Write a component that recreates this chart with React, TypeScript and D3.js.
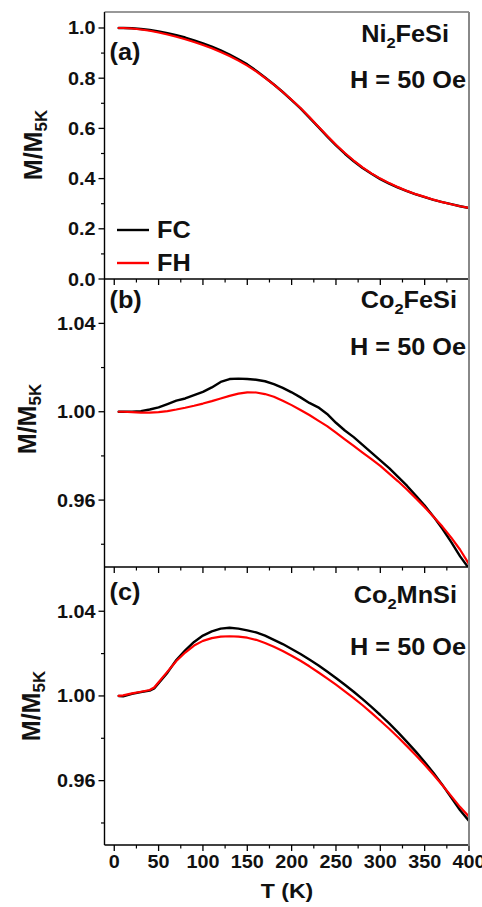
import React from "react";
import * as d3 from "d3";

// ---------- data ----------
const tempsA = [5,10,20,30,40,50,60,70,80,90,100,110,120,130,140,150,160,170,180,190,200,210,220,230,240,250,260,270,280,290,300,310,320,330,340,350,360,370,380,390,400];
const ni2fesiFC = [1.000,1.000,0.999,0.996,0.992,0.986,0.979,0.971,0.962,0.951,0.939,0.926,0.911,0.894,0.875,0.855,0.830,0.803,0.775,0.745,0.713,0.680,0.643,0.606,0.568,0.532,0.499,0.469,0.442,0.419,0.398,0.380,0.364,0.350,0.337,0.326,0.315,0.306,0.298,0.290,0.283];
const ni2fesiFH = [1.000,1.000,0.998,0.994,0.989,0.982,0.974,0.965,0.955,0.944,0.932,0.919,0.904,0.888,0.870,0.850,0.827,0.801,0.774,0.745,0.714,0.681,0.645,0.608,0.571,0.535,0.502,0.472,0.445,0.421,0.400,0.382,0.366,0.351,0.338,0.327,0.316,0.306,0.298,0.290,0.283];

const tempsB = [5,10,20,30,40,50,60,70,80,90,100,110,120,130,140,150,160,170,180,190,200,210,220,230,240,250,260,270,280,290,300,310,320,330,340,350,360,370,380,390,400];
const co2fesiFC = [1.0000,1.0000,1.0000,1.0003,1.0010,1.0020,1.0035,1.0050,1.0060,1.0075,1.0090,1.0110,1.0135,1.0148,1.0150,1.0148,1.0145,1.0138,1.0125,1.0108,1.0088,1.0065,1.0040,1.0020,0.9990,0.9950,0.9915,0.9885,0.9850,0.9815,0.9780,0.9745,0.9705,0.9665,0.9620,0.9575,0.9525,0.9470,0.9410,0.9345,0.9290];
const co2fesiFH = [1.0000,1.0000,0.9998,0.9996,0.9996,0.9998,1.0003,1.0010,1.0018,1.0027,1.0037,1.0048,1.0060,1.0072,1.0082,1.0088,1.0087,1.0080,1.0068,1.0050,1.0030,1.0008,0.9985,0.9960,0.9935,0.9905,0.9875,0.9845,0.9815,0.9785,0.9755,0.9720,0.9685,0.9648,0.9608,0.9568,0.9525,0.9480,0.9430,0.9375,0.9310];

const tempsC = [5,10,20,30,40,45,50,60,70,80,90,100,110,120,130,140,150,160,170,180,190,200,210,220,230,240,250,260,270,280,290,300,310,320,330,340,350,360,370,380,390,400];
const co2mnsiFC = [1.0000,0.9998,1.0010,1.0018,1.0025,1.0035,1.0060,1.0110,1.0170,1.0215,1.0255,1.0285,1.0305,1.0318,1.0322,1.0318,1.0310,1.0300,1.0285,1.0265,1.0245,1.0222,1.0198,1.0172,1.0145,1.0115,1.0085,1.0053,1.0020,0.9985,0.9948,0.9910,0.9870,0.9828,0.9783,0.9737,0.9688,0.9636,0.9580,0.9520,0.9460,0.9410];
const co2mnsiFH = [1.0000,1.0003,1.0012,1.0020,1.0028,1.0040,1.0065,1.0115,1.0165,1.0205,1.0238,1.0260,1.0273,1.0280,1.0282,1.0280,1.0275,1.0265,1.0250,1.0232,1.0212,1.0190,1.0166,1.0140,1.0112,1.0083,1.0053,1.0022,0.9990,0.9956,0.9920,0.9883,0.9845,0.9805,0.9763,0.9720,0.9675,0.9628,0.9578,0.9527,0.9475,0.9430];

const xTicks = [0,50,100,150,200,250,300,350,400];
const xMinor = [25,75,125,175,225,275,325,375];
const yTicksA = [0,0.2,0.4,0.6,0.8,1.0];
const yMinorA = [0.1,0.3,0.5,0.7,0.9];
const yTicksBC = [0.96,1.00,1.04];
const yMinorBC = [0.94,0.98,1.02];

// ---------- layout ----------
const W = 482, H = 907;
const L = 104.5, R = 469;
const SX = 1.1;
const FONT = "'Liberation Sans', Arial, sans-serif";

const x = d3.scaleLinear().domain([-11, 400]).range([L, R]);

type Panel = {
  key: string; top: number; bottom: number; domain: [number, number];
  ticks: number[]; minor: number[]; fmt: (v: number) => string;
  temps: number[]; fc: number[]; fh: number[];
  letter: string; base: string; sub: string; rest: string;
  letterY: number; nameY: number; fieldY: number; nameR: number; labelY: number; labelX: number;
};

const panels: Panel[] = [
  { key: "a", top: 12, bottom: 279, domain: [0, 1.0637], ticks: yTicksA, minor: yMinorA, fmt: d3.format(".1f"),
    temps: tempsA, fc: ni2fesiFC, fh: ni2fesiFH, letter: "(a)", base: "Ni", sub: "2", rest: "FeSi",
    letterY: 60, nameY: 42, fieldY: 88, nameR: 449, labelY: 145, labelX: 42 },
  { key: "b", top: 279, bottom: 567, domain: [0.9297, 1.0601], ticks: yTicksBC, minor: yMinorBC, fmt: d3.format(".2f"),
    temps: tempsB, fc: co2fesiFC, fh: co2fesiFH, letter: "(b)", base: "Co", sub: "2", rest: "FeSi",
    letterY: 308, nameY: 308, fieldY: 355, nameR: 457, labelY: 419, labelX: 36 },
  { key: "c", top: 567, bottom: 845, domain: [0.9296, 1.0609], ticks: yTicksBC, minor: yMinorBC, fmt: d3.format(".2f"),
    temps: tempsC, fc: co2mnsiFC, fh: co2mnsiFH, letter: "(c)", base: "Co", sub: "2", rest: "MnSi",
    letterY: 600, nameY: 603, fieldY: 655, nameR: 457, labelY: 706, labelX: 40 },
];

function PanelView({ p, last }: { p: Panel; last: boolean }) {
  const y = d3.scaleLinear().domain(p.domain).range([p.bottom, p.top]);
  const line = d3.line<number>().x((_, i) => x(p.temps[i])).y((v) => y(v));
  const clipId = "clip-" + p.key;
  return (
    <g>
      <defs>
        <clipPath id={clipId}>
          <rect x={L} y={p.top} width={R - L} height={p.bottom - p.top} />
        </clipPath>
      </defs>
      <g clipPath={`url(#${clipId})`} fill="none" strokeLinejoin="round" strokeLinecap="round">
        <path d={line(p.fc) || ""} stroke="#000" strokeWidth={2.4} />
        <path d={line(p.fh) || ""} stroke="#ff0000" strokeWidth={2.2} />
      </g>
      {/* left axis */}
      <line x1={L} x2={L} y1={p.top} y2={p.bottom} stroke="#000" strokeWidth={1.4} />
      {p.ticks.map((t) => (
        <g key={"yt" + t}>
          <line x1={L - 6} x2={L} y1={y(t)} y2={y(t)} stroke="#000" strokeWidth={1.3} />
          <text transform={`translate(${L - 9},${y(t) + 6.5}) scale(${SX},1)`} textAnchor="end"
            fontFamily={FONT} fontWeight="bold" fontSize={18} fill="#111">{p.fmt(t)}</text>
        </g>
      ))}
      {p.minor.map((t) => (
        <line key={"ym" + t} x1={L - 3.5} x2={L} y1={y(t)} y2={y(t)} stroke="#000" strokeWidth={1.2} />
      ))}
      {/* bottom axis */}
      <line x1={L} x2={R} y1={p.bottom} y2={p.bottom} stroke="#000" strokeWidth={1.6} />
      {xTicks.map((t) => (
        <line key={"xt" + t} x1={x(t)} x2={x(t)} y1={p.bottom} y2={p.bottom + 6} stroke="#000" strokeWidth={1.3} />
      ))}
      {xMinor.map((t) => (
        <line key={"xm" + t} x1={x(t)} x2={x(t)} y1={p.bottom} y2={p.bottom + 3.5} stroke="#000" strokeWidth={1.2} />
      ))}
      {last && xTicks.map((t) => (
        <text key={"xl" + t} transform={`translate(${x(t)},868) scale(${SX},1)`} textAnchor="middle"
          fontFamily={FONT} fontWeight="bold" fontSize={18} fill="#111">{t}</text>
      ))}
      {/* y label */}
      <text transform={`translate(${p.labelX},${p.labelY}) rotate(-90)`} textAnchor="middle"
        fontFamily={FONT} fontWeight="bold" fontSize={25} fill="#111">
        M/M<tspan fontSize={17} dy={5}>5K</tspan>
      </text>
      {/* panel letter */}
      <text transform={`translate(${L + 5},${p.letterY}) scale(${SX},1)`} fontFamily={FONT} fontWeight="bold"
        fontSize={23} fill="#111">{p.letter}</text>
      {/* compound */}
      <text transform={`translate(${p.nameR},${p.nameY}) scale(${SX},1)`} textAnchor="end" fontFamily={FONT}
        fontWeight="bold" fontSize={23} fill="#111">
        {p.base}<tspan fontSize={15} dy={6}>{p.sub}</tspan><tspan dy={-6}>{p.rest}</tspan>
      </text>
      <text transform={`translate(466,${p.fieldY}) scale(${SX},1)`} textAnchor="end" fontFamily={FONT}
        fontWeight="bold" fontSize={23} fill="#111">H = 50 Oe</text>
    </g>
  );
}

export default function App() {
  return (
    <svg width={W} height={H} style={{ position: "absolute", left: 0, top: 0, background: "#fff" }}>
      <rect x={0} y={0} width={W} height={H} fill="#fff" />
      {panels.map((p, i) => (
        <PanelView key={p.key} p={p} last={i === panels.length - 1} />
      ))}
      {/* top border of panel a */}
      <line x1={L} x2={R} y1={12} y2={12} stroke="#333" strokeWidth={1.2} />
      {/* right border */}
      <line x1={R} x2={R} y1={12} y2={846} stroke="#888" strokeWidth={2} />
      {/* legend */}
      <line x1={117} x2={149} y1={230} y2={230} stroke="#000" strokeWidth={2.4} />
      <text transform={`translate(157,238) scale(${SX},1)`} fontFamily={FONT} fontWeight="bold" fontSize={23} fill="#111">FC</text>
      <line x1={117} x2={149} y1={263} y2={263} stroke="#ff0000" strokeWidth={2.4} />
      <text transform={`translate(157,271) scale(${SX},1)`} fontFamily={FONT} fontWeight="bold" fontSize={23} fill="#111">FH</text>
      {/* x title */}
      <text transform={`translate(287,898) scale(${SX},1)`} textAnchor="middle" fontFamily={FONT} fontWeight="bold"
        fontSize={21} fill="#111">T (K)</text>
    </svg>
  );
}
